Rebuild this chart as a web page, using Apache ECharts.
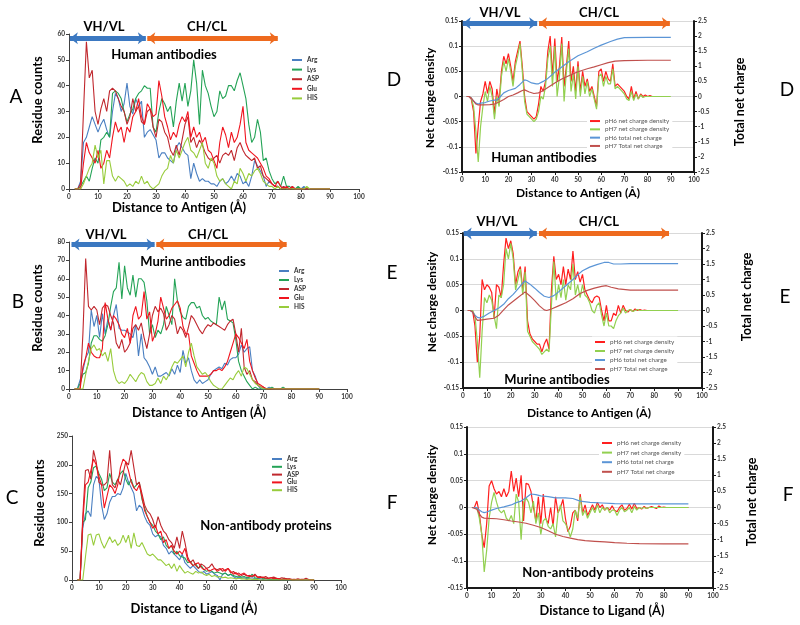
<!DOCTYPE html>
<html><head><meta charset="utf-8">
<script src="https://cdn.jsdelivr.net/npm/echarts@6/dist/echarts.min.js"></script>
<style>html,body{margin:0;padding:0;background:#fff}#c{width:800px;height:625px}</style>
</head><body><div id="c"></div><script>
// ---------- data (x starts at 2 Å, step 1 Å) ----------
const START = 2;
const residueNames = ['Arg','Lys','ASP','Glu','HIS'];
const chargeNames = ['pH6 net charge density','pH7 net charge density','pH6 total net charge','pH7 Total net charge'];

// Panel A: Human antibodies, residue counts
const A_Arg = [0,0,3,18,20,24,28,25, 22,25,27,23,20,30,37,35,30,33, 41,32,29,35,32,34,20,22,23,21, 19,12,14,14,12,11,10,16,18,16, 14,13,4,10,6,3,4,3,3,2, 2,1,3,4,2,3,5,3,6,5, 2,3,1,5,11,9,7,5,1,3, 2,1,1,0,1,0,0,1,0,0, 0,1,0,0,0,0,0,0,0,0,0];
const A_Lys = [0,0,1,3,5,3,8,12, 10,19,20,22,20,37,38,37,35,30, 26,29,31,35,37,38,40,39,39,24, 22,30,35,33,30,32,24,34,41,34, 41,32,38,50,41,25,46,40,37,32, 28,30,38,35,36,40,40,38,42,45, 40,35,25,18,20,27,22,11,12,7, 4,2,3,1,5,1,1,0,0,1, 0,0,0,0,0,0,0,0,0,0,0];
const A_ASP = [0,0,2,30,57,43,46,30, 25,31,35,30,38,39,38,35,32,30, 25,28,35,30,32,26,25,30,31,24, 20,27,26,22,20,15,13,17,13,19, 25,28,18,20,16,19,17,14,12,11, 12,13,10,13,14,13,15,11,16,18, 15,13,12,11,12,8,9,5,4,3, 2,1,1,0,1,0,0,0,0,0, 0,0,0,0,0,0,0,0,0,0,0];
const A_Glu = [0,0,0,10,18,14,12,10, 15,8,10,15,12,20,26,22,24,18, 24,22,28,30,35,28,25,33,31,28, 29,42,36,28,24,19,22,20,25,28, 26,30,20,24,20,22,18,20,15,14, 11,8,18,24,21,16,22,18,20,25, 32,18,15,14,13,12,10,8,5,4, 2,1,3,1,0,1,0,1,0,0, 0,0,0,0,0,0,0,0,0,0,0];
const A_HIS = [0,0,0,2,5,8,10,17, 12,15,2,11,11,5,3,5,4,3, 1,2,1,3,2,5,2,3,1,0, 1,2,5,7,8,13,10,15,12,15, 18,20,15,14,12,15,18,10,8,12, 10,5,3,4,2,1,0,3,2,8, 6,3,6,5,7,8,6,3,2,1, 1,0,1,0,0,0,0,0,0,0, 0,0,1,0,0,0,0,0,0,0,0];

// Panel B: Murine antibodies
const B_Arg = [0,0,5,10,17,20,43,34, 40,28,41,30,38,32,40,46,33,32, 32,31,30,28,35,18,30,17,15,12, 8,12,7,7,8,9,7,11,8,13, 9,21,14,17,10,5,3,5,3,4, 5,8,10,11,12,11,14,13,16,17, 17,19,24,20,22,23,10,7,2,0, 0,0,1,0,0,0,0,0,0,0, 0,0,0,0,0,0,0,0,0,0,0];
const B_Lys = [0,0,3,8,9,14,25,29, 29,27,26,29,35,45,53,55,69,49, 67,55,51,62,50,60,60,58,48,30, 35,28,32,30,35,45,40,35,60,48, 42,39,38,45,47,47,44,45,40,38, 39,37,36,35,50,43,48,38,37,36, 27,15,10,7,4,2,0,1,0,0, 0,0,0,1,0,0,0,1,0,0, 0,0,0,0,0,0,0,0,0,0,0];
const B_ASP = [0,0,0,30,71,45,43,45, 43,35,44,46,45,40,36,25,22,27, 20,22,25,33,35,32,36,28,22,30, 40,45,42,44,41,32,35,40,38,30, 34,32,28,34,40,38,35,32,30,33, 35,34,36,35,34,33,32,35,37,38, 30,20,33,12,8,10,5,4,2,1, 1,0,0,0,0,0,0,0,0,0, 0,0,0,0,0,0,0,0,0,0,0];
const B_Glu = [0,0,0,12,17,25,20,18, 17,17,22,47,38,32,40,38,35,30, 28,33,25,40,45,38,40,53,38,42, 26,30,37,50,44,38,40,44,46,48, 44,34,30,30,18,14,10,7,7,7, 7,8,10,10,11,10,12,15,20,25, 30,28,25,22,27,15,10,6,3,2, 1,0,0,0,0,0,0,0,0,0, 0,0,0,0,0,0,0,0,0,0,0];
const B_HIS = [0,0,0,0,8,15,22,24, 21,22,18,20,15,22,10,5,3,4, 3,5,8,6,4,7,9,8,4,2, 2,3,6,3,7,5,8,12,15,14, 16,18,12,20,25,18,12,10,8,9, 7,4,2,1,0,0,2,4,6,5, 8,10,7,12,11,8,5,3,2,1, 0,0,0,0,0,0,0,0,0,0, 0,0,0,0,0,0,0,0,0,0,0];

// Panel C: Non-antibody proteins
const C_Arg = [0,0,90,115,120,110,165,180, 175,130,105,115,135,145,145,150,148,160, 185,170,160,150,120,130,125,110,100,95, 80,75,78,75,60,55,45,50,45,40, 35,45,30,25,20,25,20,15,12,15, 10,12,15,10,8,0,10,12,8,10, 6,3,5,3,4,2,3,4,2,3, 2,1,2,1,1,2,1,1,0,1, 0,0,1,0,0,0,0,0,0,0,0];
const C_Lys = [0,0,100,105,160,170,195,198, 185,175,155,160,185,170,165,175,185,190, 175,165,175,160,165,170,140,125,110,100, 95,85,80,70,75,60,55,60,45,50, 42,40,38,30,32,25,28,20,25,18, 15,17,15,12,14,12,10,12,8,10, 8,6,7,5,6,4,5,10,4,3, 5,2,3,2,1,2,1,2,1,3, 1,1,0,0,0,0,0,0,0,0,0];
const C_ASP = [0,0,110,190,192,175,225,205, 170,165,165,170,225,165,160,175,165,185, 205,200,225,195,165,170,150,130,120,115, 105,90,110,95,85,80,70,65,55,75, 55,85,65,40,30,35,25,20,28,25, 20,22,28,20,18,20,15,18,20,12, 15,10,12,8,10,7,8,6,10,5, 6,4,6,3,4,5,3,2,4,3, 2,2,1,1,2,1,1,3,1,0,0];
const C_Glu = [0,0,100,165,170,190,210,200, 180,165,125,145,165,160,150,165,195,210, 205,190,170,160,155,165,145,120,110,100, 90,95,80,85,65,70,55,60,50,45, 50,45,55,35,30,25,28,30,22,18, 20,15,18,20,15,18,20,15,20,15, 10,13,8,10,12,8,6,7,8,5, 4,5,3,3,4,2,3,2,1,2, 1,1,0,0,0,0,0,0,0,0,0];
const C_HIS = [0,0,0,40,78,80,60,78, 80,65,55,65,75,65,70,60,65,78, 65,78,55,82,60,58,65,55,45,42, 45,40,35,35,30,25,28,20,28,15, 25,18,12,15,12,10,15,12,14,10, 8,10,6,8,5,6,4,5,3,4, 3,2,3,2,2,1,2,1,1,1, 0,0,0,0,0,0,0,0,0,0, 0,0,0,0,0,0,0,0,0,0,0];

// Panel D: Human antibodies, net charge
const D_pH6 = [0,0,-0.005,-0.03,-0.113,-0.06,-0.01,0.005, 0.03,0.006,0.03,0.015,-0.035,0.015,-0.01,0.05,0.08,0.065, 0.085,0.06,0.03,0.07,0.09,0.11,0.06,0.0,-0.03,-0.035, -0.04,-0.045,-0.04,-0.015,0.02,0.01,0.03,0.09,0.12,0.04, 0.115,0.03,0.06,0.118,0.02,0.06,0.11,0.03,0.06,0.01, 0.07,0.01,0.05,0.02,0.035,0.01,0.02,0.0,-0.02,0.05, 0.055,0.03,0.05,0.035,0.03,0.065,0.02,0.025,0.02,0.015, 0.01,0.0,-0.005,0.02,-0.005,0.01,-0.005,0.005,0.0,0.003, 0,0.002,0,0];
const D_pH7 = [0,0,-0.003,-0.02,-0.07,-0.13,-0.06,-0.02, 0.01,-0.01,0.02,0.0,-0.045,0.0,-0.02,0.04,0.07,0.05, 0.075,0.05,0.02,0.06,0.08,0.105,0.05,-0.01,-0.035,-0.04, -0.045,-0.05,-0.045,-0.03,0.0,-0.005,0.02,0.075,0.1,0.02, 0.1,0.0,0.04,0.105,-0.01,0.05,0.095,0.01,0.045,-0.005, 0.06,0.0,0.04,0.005,0.03,0.0,0.015,-0.005,-0.025,0.04, 0.045,0.02,0.04,0.025,0.025,0.055,0.015,0.02,0.015,0.01, 0.005,-0.005,-0.008,0.01,-0.008,0.005,-0.005,0.003,-0.002,0.0, 0,0,0,0,0,0,0,0,0,0,0];
const D_pH6tot = [[2,0],[3,0],[4,-0.05],[5,-0.15],[6,-0.22],[7,-0.25],[8,-0.22],[10,-0.2],[12,-0.15],[14,-0.12],[15,-0.12],[16,-0.05],[18,0.12],[20,0.2],[23,0.27],[25,0.4],[27,0.55],[28,0.53],[30,0.45],[32,0.42],[33,0.42],[35,0.5],[37,0.6],[40,0.8],[43,0.98],[46,1.15],[50,1.35],[54,1.48],[57,1.6],[60,1.7],[64,1.82],[67,1.9],[70,1.95],[80,1.96],[90,1.96]];
const D_pH7tot = [[2,0],[3,0],[4,-0.05],[5,-0.15],[6,-0.25],[7,-0.28],[9,-0.28],[12,-0.27],[14,-0.25],[16,-0.18],[18,-0.1],[20,0.0],[22,0.05],[24,0.12],[26,0.2],[27,0.22],[29,0.15],[31,0.1],[33,0.12],[35,0.2],[37,0.3],[40,0.45],[43,0.58],[47,0.72],[50,0.82],[54,0.92],[57,0.98],[60,1.05],[63,1.12],[66,1.17],[70,1.19],[80,1.2],[90,1.2]];

// Panel E: Murine antibodies, net charge
const E_pH6 = [0,0,0,-0.03,-0.1,-0.05,0.06,0.04, 0.05,0.045,0.035,-0.015,0.05,0.045,0.025,0.09,0.14,0.12, 0.135,0.11,0.05,0.075,0.085,0.04,0.085,-0.02,-0.045,-0.055, -0.06,-0.065,-0.065,-0.08,-0.065,-0.055,-0.075,0.04,0.105,0.06, 0.07,0.05,0.085,0.05,0.08,0.06,0.115,0.06,0.075,0.055, 0.07,0.04,0.03,0.02,0.015,0.025,0.028,0.025,0.0,-0.02, 0.01,-0.02,-0.02,-0.005,-0.01,0.01,-0.005,0.01,0.0,-0.003, 0.002,-0.002,0.003,0,0.002,0,0.001,0,0];
const E_pH7 = [0,0,0,-0.01,-0.06,-0.13,-0.04,0.025, 0.015,0.03,0.02,-0.01,-0.035,0.03,0.025,0.05,0.12,0.1, 0.13,0.1,0.04,0.06,0.08,0.03,0.075,-0.04,-0.05,-0.06, -0.065,-0.07,-0.075,-0.085,-0.08,-0.075,-0.08,0.01,0.095,0.02, 0.05,0.025,0.06,0.02,0.05,0.04,0.09,0.03,0.05,0.025, 0.05,0.03,0.025,0.015,0.0,-0.005,0.01,0.015,-0.01,-0.03, -0.005,-0.03,-0.03,-0.035,-0.02,-0.01,-0.005,0.005,-0.005,0, 0.002,-0.002,0,0.002,0,0,0,0,0,0, 0,0,0,0,0,0,0,0,0,0,0];
const E_pH6tot = [[2,0],[3,0],[4,-0.05],[5,-0.15],[6,-0.22],[7,-0.24],[9,-0.18],[11,-0.08],[13,0.0],[15,0.08],[17,0.2],[19,0.38],[21,0.52],[23,0.7],[25,0.88],[26,0.95],[28,0.85],[30,0.72],[32,0.58],[34,0.46],[36,0.42],[38,0.48],[40,0.6],[43,0.8],[46,1.0],[48,1.15],[50,1.28],[53,1.4],[56,1.48],[59,1.55],[61,1.55],[63,1.5],[66,1.5],[70,1.51],[90,1.51]];
const E_pH7tot = [[2,0],[3,0],[4,-0.05],[5,-0.2],[6,-0.32],[8,-0.3],[10,-0.28],[13,-0.25],[15,-0.15],[17,0.02],[19,0.18],[21,0.3],[23,0.42],[26,0.6],[28,0.47],[30,0.32],[32,0.15],[34,0.02],[35,0.0],[37,0.05],[40,0.15],[43,0.25],[46,0.38],[49,0.55],[52,0.65],[55,0.72],[58,0.78],[60,0.8],[62,0.75],[65,0.7],[70,0.66],[90,0.66]];

// Panel F: Non-antibody proteins, net charge
const F_pH6 = [0,0,0.012,-0.01,-0.05,-0.075,-0.03,0.04, 0.05,0.035,0.025,0.03,0.02,0.035,0.02,0.03,0.068,0.03, 0.055,0.02,0.06,-0.025,0.045,0.043,0.03,0.0,-0.025,0.02, -0.03,0.025,-0.02,-0.03,0.0,-0.035,0.02,-0.01,0.0,0.015, -0.02,-0.045,-0.035,-0.01,-0.005,-0.025,0.025,-0.01,0.005,-0.015, -0.005,0.005,-0.005,0.01,0.0,0.005,-0.005,0.0,-0.005,0.003, -0.005,-0.008,0.0,0.005,-0.005,-0.002,0.006,-0.003,0.008,-0.002, 0.0,-0.003,0.002,-0.002,0.0,0.002,0.0,-0.002,0.003,0.0, 0.001,0,0,0,0,0,0,0,0,0,0];
const F_pH7 = [0,0,0,-0.02,-0.05,-0.12,-0.08,-0.02, 0.01,0.028,0.01,-0.005,-0.01,-0.005,-0.02,-0.025,-0.015,-0.03, 0.025,0.01,-0.06,0.01,0.018,0.01,-0.01,0.012,-0.03,-0.01, -0.05,-0.025,-0.02,-0.035,-0.04,-0.03,-0.055,-0.01,0.005,-0.025, -0.03,-0.04,-0.055,-0.04,-0.005,-0.02,0.02,-0.015,-0.005,-0.02, -0.01,0.0,-0.01,0.005,-0.01,0.0,-0.005,0.0,-0.01,-0.005, -0.005,-0.015,-0.005,0.0,-0.008,-0.005,0.0,-0.01,0.002,-0.005, 0,-0.002,0,-0.002,0,0,0,0,0,0, 0,0,0,0,0,0,0,0,0,0,0];
const F_pH6tot = [[2,0],[4,0.0],[5,-0.08],[6,-0.13],[7,-0.16],[8,-0.14],[10,-0.08],[12,-0.03],[15,0.02],[18,0.08],[20,0.15],[22,0.2],[24,0.3],[26,0.42],[28,0.4],[30,0.36],[33,0.34],[36,0.3],[40,0.3],[43,0.28],[46,0.2],[50,0.16],[55,0.14],[60,0.12],[70,0.11],[90,0.11]];
const F_pH7tot = [[2,0],[4,-0.05],[5,-0.2],[6,-0.3],[7,-0.33],[9,-0.34],[12,-0.35],[15,-0.38],[18,-0.42],[21,-0.45],[24,-0.49],[27,-0.55],[30,-0.62],[33,-0.72],[36,-0.83],[39,-0.9],[42,-0.95],[45,-1.0],[48,-1.03],[52,-1.05],[56,-1.07],[60,-1.09],[65,-1.11],[70,-1.12],[80,-1.13],[90,-1.13]];

// ---------- styling ----------
const FONT = "Lato, 'Open Sans', sans-serif";
const resColors = ['#4a7fc1','#24a356','#c0272d','#f0141e','#98cc3c'];
const chgColors = ['#ff1f1f','#92d050','#5b95d6','#c0504d'];
const BLUE = '#3b78c1', ORANGE = '#ee6a1e';

function pts(arr){ return arr.map((v,i)=>[START+i, v]); }

const grids = [
  {left:69, top:34, width:290, height:155},
  {left:69, top:242, width:278, height:147},
  {left:72, top:436, width:269, height:144},
  {left:462, top:21, width:232, height:151},
  {left:463, top:233, width:239, height:155},
  {left:467, top:427, width:246, height:161}
];

function xAx(g){
  const right = g >= 3;
  return {type:'value', gridIndex:g, min:0, max:100, interval:10,
    axisLine:{show:true, onZero:false, lineStyle:{color: right?'#1a1a1a':'#404040', width: right?2:1}},
    axisTick:{show:true, length:3, lineStyle:{color: right?'#1a1a1a':'#404040'}},
    axisLabel:{fontSize:6.5, fontWeight:'bold', color:'#333', margin:4, fontFamily:FONT},
    splitLine:{show:false}};
}
function yLeft(g, min, max, interval, grid){
  return {type:'value', gridIndex:g, min, max, interval, position:'left',
    axisLine:{show:true, onZero:false, lineStyle:{color: grid?'#1a1a1a':'#404040', width: grid?2:1}},
    axisTick:{show:true, length:3, lineStyle:{color: grid?'#1a1a1a':'#404040'}},
    axisLabel:{fontSize:6.5, fontWeight:'bold', color:'#333', margin:4, fontFamily:FONT},
    splitLine:{show:!!grid, lineStyle:{color:'#d9d9d9', width:1}}};
}
function yRight(g){
  return {type:'value', gridIndex:g, min:-2.5, max:2.5, interval:0.5, position:'right',
    axisLine:{show:true, onZero:false, lineStyle:{color:'#1a1a1a', width:2}},
    axisTick:{show:true, length:3, lineStyle:{color:'#1a1a1a'}},
    axisLabel:{fontSize:6.5, fontWeight:'bold', color:'#333', margin:4, fontFamily:FONT},
    splitLine:{show:false}};
}

const xAxis = [0,1,2,3,4,5].map(xAx);
const yAxis = [
  yLeft(0, 0, 60, 10, false),
  yLeft(1, 0, 80, 10, false),
  yLeft(2, 0, 250, 50, false),
  yLeft(3, -0.15, 0.15, 0.05, true), yRight(3),
  yLeft(4, -0.15, 0.15, 0.05, true), yRight(4),
  yLeft(5, -0.15, 0.15, 0.05, true), yRight(5)
];

function arrows(y, b0, b1, o0, o1){
  return {silent:true, symbol:['arrow','arrow'], symbolSize:[9,8], animation:false,
    label:{show:false}, emphasis:{disabled:true},
    lineStyle:{type:'solid', width:5},
    data:[
      [{coord:[b0,y], lineStyle:{color:BLUE, width:5, type:'solid'}, itemStyle:{color:BLUE}}, {coord:[b1,y]}],
      [{coord:[o0,y], lineStyle:{color:ORANGE, width:5, type:'solid'}, itemStyle:{color:ORANGE}}, {coord:[o1,y]}]
    ]};
}

const series = [];
function addResidue(g, arrs, mark){
  arrs.forEach((a,i)=>{
    const s = {type:'line', name:residueNames[i], xAxisIndex:g, yAxisIndex:g, data:pts(a),
      showSymbol:false, symbol:'none', color:resColors[i], lineStyle:{width:1.1, color:resColors[i]}};
    if (i===0 && mark) s.markLine = mark;
    series.push(s);
  });
}
addResidue(0, [A_Arg,A_Lys,A_ASP,A_Glu,A_HIS], arrows(58.4, 0.3, 26.5, 27.0, 72));
addResidue(1, [B_Arg,B_Lys,B_ASP,B_Glu,B_HIS], arrows(78.7, 0.9, 30.8, 31.4, 78.3));
addResidue(2, [C_Arg,C_Lys,C_ASP,C_Glu,C_HIS], null);

function addCharge(g, yl, yr, d6, d7, t6, t7, mark){
  const list = [[pts(d6),yl],[pts(d7),yl],[t6,yr],[t7,yr]];
  list.forEach((p,i)=>{
    const s = {type:'line', name:chargeNames[i], xAxisIndex:g, yAxisIndex:p[1], data:p[0],
      showSymbol:false, symbol:'none', color:chgColors[i], lineStyle:{width:1.2, color:chgColors[i]}};
    if (i===0 && mark) s.markLine = mark;
    series.push(s);
  });
}
addCharge(3, 3, 4, D_pH6, D_pH7, D_pH6tot, D_pH7tot, arrows(0.1455, 0.3, 32.4, 33.2, 89.6));
addCharge(4, 5, 6, E_pH6, E_pH7, E_pH6tot, E_pH7tot, arrows(0.149, 0.3, 30.9, 31.8, 86.2));
addCharge(5, 7, 8, F_pH6, F_pH7, F_pH6tot, F_pH7tot, null);

function legendRes(left, top, lh){
  return {data:residueNames, orient:'vertical', left, top, itemWidth:10, itemHeight:2, itemGap:0, icon:'rect', padding:0,
    selectedMode:false, textStyle:{fontSize:6.5, fontWeight:'bold', color:'#333', fontFamily:FONT, lineHeight:lh}};
}
function legendChg(left, top, lh){
  return {data:chargeNames, orient:'vertical', left:left-3, top:top-1, itemWidth:10, itemHeight:2, itemGap:0, icon:'rect', padding:[1,3],
    backgroundColor:'#fff', selectedMode:false, textStyle:{fontSize:6.3, color:'#595959', fontFamily:FONT, lineHeight:lh}};
}
const legend = [
  legendRes(292, 55.2, 9.6),
  legendRes(279, 266.5, 9),
  legendRes(272, 455.1, 7.8),
  legendChg(590, 116.9, 8.3),
  legendChg(595, 337.5, 9),
  legendChg(602, 438.2, 9.6)
];

function txt(t, x, y, size, weight, rot){
  return {type:'text', x, y, rotation: rot||0, silent:true, z:10,
    style:{text:t, fontSize:size, fontWeight:weight, fontFamily:FONT, fill:'#000',
      align:'center', verticalAlign:'middle', textAlign:'center', textVerticalAlign:'middle'}};
}
const R = Math.PI/2;
const graphic = [
  txt('A', 16, 97, 19, 'normal'), txt('B', 18, 302, 19, 'normal'), txt('C', 12, 498, 19, 'normal'),
  txt('D', 394, 80, 19, 'normal'), txt('E', 392, 273, 19, 'normal'), txt('F', 392, 503, 19, 'normal'),
  txt('D', 787, 90, 19, 'normal'), txt('E', 785, 297, 19, 'normal'), txt('F', 788, 495, 19, 'normal'),
  txt('Residue counts', 38, 100, 13, 'bold', R), txt('Residue counts', 38, 308, 13, 'bold', R), txt('Residue counts', 40, 503, 13, 'bold', R),
  txt('Distance to Antigen (Å)', 179, 208, 13, 'bold'), txt('Distance to Antigen (Å)', 199, 413, 13, 'bold'), txt('Distance to Ligand (Å)', 194, 609, 13, 'bold'),
  txt('Human antibodies', 164, 55, 13, 'bold'), txt('Murine antibodies', 193, 262, 13, 'bold'), txt('Non-antibody proteins', 266, 526, 13, 'bold'),
  txt('VH/VL', 104, 27, 13, 'bold'), txt('CH/CL', 207, 27, 13, 'bold'),
  txt('VH/VL', 106, 235, 13, 'bold'), txt('CH/CL', 208, 235, 13, 'bold'),
  txt('Net charge density', 430, 98, 12, 'bold', R), txt('Total net charge', 740, 102, 12.5, 'bold', R),
  txt('Net charge density', 432, 302, 12, 'bold', R), txt('Total net charge', 747, 297, 12.5, 'bold', R),
  txt('Net charge density', 432, 495, 12, 'bold', R), txt('Total net charge', 752, 502, 12.5, 'bold', R),
  txt('Distance to Antigen (Å)', 578, 193, 12, 'bold'), txt('Distance to Antigen (Å)', 589, 413, 12, 'bold'), txt('Distance to Ligand (Å)', 602, 611, 12.8, 'bold'),
  txt('Human antibodies', 544, 158, 13, 'bold'), txt('Murine antibodies', 557, 380, 13, 'bold'), txt('Non-antibody proteins', 588, 573, 13, 'bold'),
  txt('VH/VL', 500, 13, 13, 'bold'), txt('CH/CL', 599, 13, 13, 'bold'),
  txt('VH/VL', 497, 222, 13, 'bold'), txt('CH/CL', 599, 222, 13, 'bold')
];

const chart = echarts.init(document.getElementById('c'), null, {renderer:'canvas'});
chart.setOption({
  animation:false, backgroundColor:'#fff',
  grid: grids, xAxis, yAxis, series, legend, graphic
});
</script></body></html>
